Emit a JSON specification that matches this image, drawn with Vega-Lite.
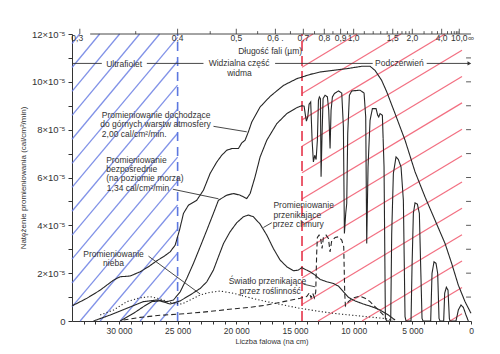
{
  "$schema": "https://vega.github.io/schema/vega-lite/v6.json",
  "width": 399,
  "height": 287,
  "autosize": "none",
  "padding": {"left": 72, "top": 34, "right": 29, "bottom": 33},
  "background": "white",
  "config": {
    "view": {"stroke": null},
    "font": "Liberation Sans",
    "axis": {"grid": false, "domainColor": "#333", "tickColor": "#333", "labelColor": "#333", "titleColor": "#333", "labelFont": "Liberation Sans", "titleFont": "Liberation Sans", "titleFontWeight": "normal"}
  },
  "datasets": {
    "curves": [
      {"s":"T","w":34000,"v":0.63},{"s":"T","w":32730,"v":0.95},{"s":"T","w":31600,"v":1.29},{"s":"T","w":30460,"v":1.71},{"s":"T","w":29900,"v":1.85},{"s":"T","w":29040,"v":1.88},{"s":"T","w":28190,"v":2.06},{"s":"T","w":27480,"v":2.27},{"s":"T","w":26770,"v":2.52},{"s":"T","w":26200,"v":2.69},{"s":"T","w":25640,"v":2.89},{"s":"T","w":25210,"v":3.17},{"s":"T","w":24840,"v":3.80},{"s":"T","w":24500,"v":4.50},{"s":"T","w":24080,"v":4.84},{"s":"T","w":23370,"v":5.05},{"s":"T","w":22800,"v":5.47},{"s":"T","w":22230,"v":6.17},{"s":"T","w":21660,"v":6.65},{"s":"T","w":21240,"v":6.93},{"s":"T","w":20810,"v":7.14},{"s":"T","w":20380,"v":7.21},{"s":"T","w":19820,"v":7.21},{"s":"T","w":19530,"v":7.45},{"s":"T","w":19250,"v":7.56},{"s":"T","w":18970,"v":7.91},{"s":"T","w":18680,"v":8.32},{"s":"T","w":17970,"v":8.95},{"s":"T","w":17120,"v":9.39},{"s":"T","w":15980,"v":9.85},{"s":"T","w":14850,"v":10.13},{"s":"T","w":13710,"v":10.31},{"s":"T","w":12860,"v":10.41},{"s":"T","w":11730,"v":10.48},{"s":"T","w":10590,"v":10.55},{"s":"T","w":9310,"v":10.65},{"s":"T","w":8600,"v":10.65},{"s":"T","w":8180,"v":10.48},{"s":"T","w":7610,"v":10.06},{"s":"T","w":7180,"v":9.58},{"s":"T","w":6470,"v":8.67},{"s":"T","w":5620,"v":7.56},{"s":"T","w":4770,"v":6.24},{"s":"T","w":3920,"v":5.19},{"s":"T","w":3070,"v":4.22},{"s":"T","w":2210,"v":3.24},{"s":"T","w":1650,"v":2.41},{"s":"T","w":1080,"v":1.50},{"s":"T","w":510,"v":0.81},{"s":"T","w":0,"v":0.32},
      {"s":"D","w":32170,"v":0},{"s":"D","w":30750,"v":0.25},{"s":"D","w":29330,"v":0.53},{"s":"D","w":27910,"v":0.81},{"s":"D","w":26770,"v":0.88},{"s":"D","w":25920,"v":0.81},{"s":"D","w":25350,"v":0.88},{"s":"D","w":24780,"v":1.22},{"s":"D","w":24220,"v":1.78},{"s":"D","w":23650,"v":2.41},{"s":"D","w":23080,"v":3.10},{"s":"D","w":22510,"v":3.80},{"s":"D","w":21950,"v":4.50},{"s":"D","w":21520,"v":5.05},{"s":"D","w":20810,"v":5.26},{"s":"D","w":20240,"v":5.33},{"s":"D","w":19670,"v":5.26},{"s":"D","w":19110,"v":5.12},{"s":"D","w":18820,"v":5.33},{"s":"D","w":18400,"v":6.03},{"s":"D","w":17970,"v":6.86},{"s":"D","w":17400,"v":7.56},{"s":"D","w":16550,"v":8.25},{"s":"D","w":15700,"v":8.67},{"s":"D","w":14850,"v":8.92},{"s":"D","w":14420,"v":9.00},{"s":"D","w":14220,"v":8.98},{"s":"D","w":14110,"v":8.60},{"s":"D","w":14025,"v":8.36},{"s":"D","w":13910,"v":8.53},{"s":"D","w":13800,"v":9.06},{"s":"D","w":13660,"v":9.16},{"s":"D","w":13540,"v":7.56},{"s":"D","w":13430,"v":6.65},{"s":"D","w":13315,"v":6.93},{"s":"D","w":13200,"v":6.75},{"s":"D","w":13090,"v":7.56},{"s":"D","w":13000,"v":9.23},{"s":"D","w":12920,"v":9.37},{"s":"D","w":12830,"v":9.30},{"s":"D","w":12776,"v":6.03},{"s":"D","w":12690,"v":7.84},{"s":"D","w":12605,"v":9.30},{"s":"D","w":12435,"v":9.44},{"s":"D","w":12236,"v":9.37},{"s":"D","w":12123,"v":8.81},{"s":"D","w":12009,"v":7.21},{"s":"D","w":11924,"v":8.81},{"s":"D","w":11810,"v":9.37},{"s":"D","w":11640,"v":9.51},{"s":"D","w":11300,"v":9.62},{"s":"D","w":11015,"v":9.53},{"s":"D","w":10873,"v":8.11},{"s":"D","w":10788,"v":3.66},{"s":"D","w":10675,"v":4.50},{"s":"D","w":10589,"v":4.91},{"s":"D","w":10504,"v":7.84},{"s":"D","w":10362,"v":9.44},{"s":"D","w":10164,"v":9.62},{"s":"D","w":9454,"v":9.65},{"s":"D","w":9113,"v":9.53},{"s":"D","w":8971,"v":8.53},{"s":"D","w":8886,"v":3.24},{"s":"D","w":8773,"v":6.44},{"s":"D","w":8602,"v":8.39},{"s":"D","w":8403,"v":8.88},{"s":"D","w":8091,"v":8.88},{"s":"D","w":7949,"v":8.60},{"s":"D","w":7864,"v":8.53},{"s":"D","w":7750,"v":8.67},{"s":"D","w":7552,"v":8.60},{"s":"D","w":7410,"v":6.44},{"s":"D","w":7296,"v":0.11},{"s":"D","w":7183,"v":0},{"s":"D","w":6842,"v":0},{"s":"D","w":6757,"v":3.66},{"s":"D","w":6615,"v":6.17},{"s":"D","w":6388,"v":6.86},{"s":"D","w":6189,"v":6.75},{"s":"D","w":5962,"v":6.44},{"s":"D","w":5763,"v":5.05},{"s":"D","w":5621,"v":0.18},{"s":"D","w":5536,"v":0},{"s":"D","w":5110,"v":0},{"s":"D","w":5025,"v":2.27},{"s":"D","w":4911,"v":4.50},{"s":"D","w":4770,"v":4.94},{"s":"D","w":4571,"v":4.89},{"s":"D","w":4400,"v":4.50},{"s":"D","w":4287,"v":2.27},{"s":"D","w":4173,"v":0.11},{"s":"D","w":4088,"v":0},{"s":"D","w":3435,"v":0},{"s":"D","w":3322,"v":1.99},{"s":"D","w":3151,"v":2.48},{"s":"D","w":2981,"v":2.41},{"s":"D","w":2839,"v":1.99},{"s":"D","w":2725,"v":0.11},{"s":"D","w":2640,"v":0},{"s":"D","w":2328,"v":0},{"s":"D","w":2243,"v":1.16},{"s":"D","w":2101,"v":1.41},{"s":"D","w":1959,"v":1.29},{"s":"D","w":1845,"v":0.11},{"s":"D","w":1789,"v":0},{"s":"D","w":1278,"v":0},{"s":"D","w":1079,"v":0.46},{"s":"D","w":852,"v":0.67},{"s":"D","w":653,"v":0.57},{"s":"D","w":426,"v":0.25},{"s":"D","w":227,"v":0},
      {"s":"C","w":29900,"v":0},{"s":"C","w":28760,"v":0.32},{"s":"C","w":27910,"v":0.60},{"s":"C","w":27200,"v":0.81},{"s":"C","w":26490,"v":0.84},{"s":"C","w":25640,"v":0.71},{"s":"C","w":24780,"v":0.84},{"s":"C","w":23930,"v":1.09},{"s":"C","w":23080,"v":1.36},{"s":"C","w":22510,"v":1.64},{"s":"C","w":21950,"v":2.13},{"s":"C","w":21520,"v":2.69},{"s":"C","w":21090,"v":3.24},{"s":"C","w":20530,"v":3.73},{"s":"C","w":19960,"v":4.11},{"s":"C","w":19390,"v":4.36},{"s":"C","w":18970,"v":4.43},{"s":"C","w":18540,"v":4.36},{"s":"C","w":17970,"v":4.05},{"s":"C","w":17400,"v":3.59},{"s":"C","w":16840,"v":3.03},{"s":"C","w":16270,"v":2.55},{"s":"C","w":15700,"v":2.27},{"s":"C","w":15130,"v":2.10},{"s":"C","w":14710,"v":2.13},{"s":"C","w":14420,"v":2.23},{"s":"C","w":14140,"v":2.16},{"s":"C","w":13710,"v":2.06},{"s":"C","w":13290,"v":1.92},{"s":"C","w":12860,"v":1.74},{"s":"C","w":12290,"v":1.64},{"s":"C","w":11730,"v":1.57},{"s":"C","w":11300,"v":1.46},{"s":"C","w":10870,"v":1.22},{"s":"C","w":10450,"v":0.99},{"s":"C","w":9880,"v":0.84},{"s":"C","w":9170,"v":0.71},{"s":"C","w":8460,"v":0.60},{"s":"C","w":7750,"v":0.46},{"s":"C","w":7040,"v":0.25},{"s":"C","w":6470,"v":0.04},
      {"s":"S","w":31600,"v":0.25},{"s":"S","w":30460,"v":0.46},{"s":"S","w":29330,"v":0.81},{"s":"S","w":28190,"v":0.97},{"s":"S","w":27340,"v":1.02},{"s":"S","w":26490,"v":0.92},{"s":"S","w":25350,"v":0.74},{"s":"S","w":24640,"v":0.71},{"s":"S","w":23930,"v":0.88},{"s":"S","w":23080,"v":1.09},{"s":"S","w":22230,"v":1.20},{"s":"S","w":21380,"v":1.25},{"s":"S","w":20240,"v":1.16},{"s":"S","w":18820,"v":0.97},{"s":"S","w":17400,"v":0.81},{"s":"S","w":15980,"v":0.67},{"s":"S","w":14560,"v":0.53},{"s":"S","w":13150,"v":0.42},{"s":"S","w":11730,"v":0.32},{"s":"S","w":10310,"v":0.25},{"s":"S","w":8890,"v":0.18},{"s":"S","w":7470,"v":0.11},{"s":"S","w":6620,"v":0.04},
      {"s":"V","w":29610,"v":0.04},{"s":"V","w":28190,"v":0.15},{"s":"V","w":26490,"v":0.24},{"s":"V","w":24780,"v":0.29},{"s":"V","w":23080,"v":0.36},{"s":"V","w":21660,"v":0.43},{"s":"V","w":20240,"v":0.51},{"s":"V","w":18820,"v":0.57},{"s":"V","w":17400,"v":0.67},{"s":"V","w":15980,"v":0.81},{"s":"V","w":14560,"v":0.95},{"s":"V","w":14000,"v":1.02},{"s":"V","w":13770,"v":1.18},{"s":"V","w":13630,"v":0.97},{"s":"V","w":13490,"v":1.16},{"s":"V","w":13340,"v":0.97},{"s":"V","w":13230,"v":1.22},{"s":"V","w":13150,"v":2.83},{"s":"V","w":13090,"v":3.49},{"s":"V","w":12950,"v":3.59},{"s":"V","w":12800,"v":3.41},{"s":"V","w":12690,"v":3.03},{"s":"V","w":12580,"v":3.49},{"s":"V","w":12350,"v":3.59},{"s":"V","w":12150,"v":3.45},{"s":"V","w":12010,"v":2.89},{"s":"V","w":11870,"v":3.35},{"s":"V","w":11580,"v":3.49},{"s":"V","w":11300,"v":3.52},{"s":"V","w":11015,"v":3.38},{"s":"V","w":10845,"v":3.10},{"s":"V","w":10760,"v":1.16},{"s":"V","w":10700,"v":0.63},{"s":"V","w":10450,"v":0.81},{"s":"V","w":10020,"v":0.97},{"s":"V","w":9450,"v":1.04},{"s":"V","w":9030,"v":0.95},{"s":"V","w":8600,"v":0.81},{"s":"V","w":8180,"v":0.60},{"s":"V","w":7750,"v":0.39},{"s":"V","w":7325,"v":0.18}
    ],
    "blueh": [
      {"w":26490,"v":0,"w2":25000,"v2":0.84},{"w":28195,"v":0,"w2":25000,"v2":1.84},{"w":29898,"v":0,"w2":25000,"v2":2.84},{"w":31602,"v":0,"w2":25000,"v2":3.84},{"w":33305,"v":0,"w2":25000,"v2":4.85},
      {"w":34000,"v":0.59,"w2":25000,"v2":5.85},{"w":34000,"v":1.59,"w2":25000,"v2":6.85},{"w":34000,"v":2.59,"w2":25000,"v2":7.85},{"w":34000,"v":3.59,"w2":25000,"v2":8.86},{"w":34000,"v":4.59,"w2":25000,"v2":9.86},{"w":34000,"v":5.59,"w2":25000,"v2":10.86},{"w":34000,"v":6.59,"w2":25000,"v2":11.86},
      {"w":34000,"v":7.6,"w2":26534,"v2":12},{"w":34000,"v":8.6,"w2":28237,"v2":12},{"w":34000,"v":9.6,"w2":29942,"v2":12},{"w":34000,"v":10.6,"w2":31644,"v2":12},{"w":34000,"v":11.6,"w2":33348,"v2":12}
    ],
    "redh": [
      {"w":1789,"v":0,"w2":767,"v2":0.30},{"w":5537,"v":0,"w2":767,"v2":1.40},{"w":9285,"v":0,"w2":767,"v2":2.51},{"w":13033,"v":0,"w2":767,"v2":3.61},
      {"w":14400,"v":0.69,"w2":767,"v2":4.71},{"w":14400,"v":1.80,"w2":767,"v2":5.81},{"w":14400,"v":2.90,"w2":767,"v2":6.91},{"w":14400,"v":4.00,"w2":767,"v2":8.02},{"w":14400,"v":5.10,"w2":767,"v2":9.12},{"w":14400,"v":6.20,"w2":767,"v2":10.22},{"w":14400,"v":7.31,"w2":767,"v2":11.32},
      {"w":14400,"v":8.41,"w2":2215,"v2":12},{"w":14400,"v":9.51,"w2":5963,"v2":12},{"w":14400,"v":10.61,"w2":9711,"v2":12},{"w":14400,"v":11.71,"w2":13458,"v2":12}
    ],
    "bluev": [{"w":25000,"v":0,"w2":25000,"v2":12}],
    "redv": [{"w":14400,"v":0,"w2":14400,"v2":12}],
    "lines": [
      {"w":21945,"v":8.14,"w2":19106,"v2":7.91},
      {"w":25409,"v":5.51,"w2":21520,"v2":5.11},
      {"w":27482,"v":2.71,"w2":23081,"v2":1.13},
      {"w":16977,"v":4.11,"w2":17687,"v2":3.91},
      {"w":14280,"v":1.54,"w2":13287,"v2":1.43},
      {"w":34000,"v":10.77,"w2":31460,"v2":10.77},
      {"w":27623,"v":10.77,"w2":22797,"v2":10.77},
      {"w":16693,"v":10.77,"w2":8375,"v2":10.77},
      {"w":3776,"v":10.77,"w2":142,"v2":10.77},
      {"w":32450,"v":12,"w2":0,"v2":12}
    ],
    "arrow": [{"w":142,"v":10.77}],
    "tleft": [
      {"t":"Promieniowanie dochodzące","w":31456,"v":8.60},
      {"t":"do górnych warstw atmosfery","w":31598,"v":8.23},
      {"t":"2,00 cal/cm²/min.","w":31456,"v":7.81},
      {"t":"Promieniowanie","w":31087,"v":6.75},
      {"t":"bezpośrednie","w":31087,"v":6.37},
      {"t":"(na poziomie morza)","w":31087,"v":5.96},
      {"t":"1,34 cal/cm²/min","w":31030,"v":5.57},
      {"t":"Promieniowanie","w":16835,"v":4.84},
      {"t":"przenikające","w":16835,"v":4.45},
      {"t":"przez chmury","w":16892,"v":4.05}
    ],
    "tcenter": [
      {"t":"Promieniowanie","w":30462,"v":2.80},
      {"t":"nieba","w":30462,"v":2.41},
      {"t":"Światło przenikające","w":17346,"v":1.67},
      {"t":"przez roślinność","w":17119,"v":1.27},
      {"t":"Ultrafiolet","w":29554,"v":10.75},
      {"t":"Widzialna  część","w":19760,"v":10.77},
      {"t":"widma","w":19730,"v":10.38},
      {"t":"Podczerwień","w":6104,"v":10.80},
      {"t":"Długość fali (µm)","w":17119,"v":11.29}
    ],
    "lam": [
      {"t":"0,3","w":33550,"v":11.82},{"t":"0,4","w":25000,"v":11.82},{"t":"0,5","w":20000,"v":11.82},{"t":"0,6 .","w":16667,"v":11.82},{"t":"0,7","w":14286,"v":11.82},{"t":"0,8","w":12500,"v":11.82},{"t":"0,9","w":11111,"v":11.82},{"t":"1,0","w":10000,"v":11.82},{"t":"1,5","w":6667,"v":11.82},{"t":"2,0","w":5000,"v":11.82},{"t":"4,0","w":2500,"v":11.82},{"t":"10,0","w":1000,"v":11.82},{"t":"∞","w":0,"v":11.82}
    ],
    "lamticks": [
      {"w":33333,"v":12,"v2":12.22},{"w":25000,"v":12,"v2":12.22},{"w":20000,"v":12,"v2":12.22},{"w":16667,"v":12,"v2":12.22},{"w":14286,"v":12,"v2":12.22},{"w":12500,"v":12,"v2":12.22},{"w":11111,"v":12,"v2":12.22},{"w":10000,"v":12,"v2":12.22},{"w":6667,"v":12,"v2":12.22},{"w":5000,"v":12,"v2":12.22},{"w":2500,"v":12,"v2":12.22},{"w":1000,"v":12,"v2":12.22},
      {"w":28571,"v":12,"v2":12.12},{"w":22222,"v":12,"v2":12.12},{"w":18182,"v":12,"v2":12.12},{"w":15385,"v":12,"v2":12.12},{"w":13333,"v":12,"v2":12.12},{"w":11765,"v":12,"v2":12.12},{"w":10526,"v":12,"v2":12.12},{"w":9091,"v":12,"v2":12.12},{"w":8333,"v":12,"v2":12.12},{"w":7692,"v":12,"v2":12.12},{"w":7143,"v":12,"v2":12.12},{"w":6250,"v":12,"v2":12.12},{"w":5882,"v":12,"v2":12.12},{"w":5556,"v":12,"v2":12.12},{"w":5263,"v":12,"v2":12.12},{"w":4000,"v":12,"v2":12.12},{"w":3333,"v":12,"v2":12.12},{"w":2857,"v":12,"v2":12.12},{"w":2000,"v":12,"v2":12.12},{"w":1667,"v":12,"v2":12.12},{"w":1429,"v":12,"v2":12.12},{"w":1250,"v":12,"v2":12.12},{"w":1111,"v":12,"v2":12.12}
    ],
    "rticks": [
      {"w":0,"w2":420,"v":1},{"w":0,"w2":420,"v":2},{"w":0,"w2":420,"v":3},{"w":0,"w2":420,"v":4},{"w":0,"w2":420,"v":5},{"w":0,"w2":420,"v":6},{"w":0,"w2":420,"v":7},{"w":0,"w2":420,"v":8},{"w":0,"w2":420,"v":9},{"w":0,"w2":420,"v":10},{"w":0,"w2":420,"v":11}
    ]
  },
  "encoding": {
    "x": {
      "field": "w", "type": "quantitative",
      "scale": {"domain": [0, 34000], "reverse": true, "nice": false, "zero": false},
      "axis": {
        "title": "Liczba falowa (na cm)", "titleFontSize": 7.5, "titlePadding": 3,
        "values": [0,1000,2000,3000,4000,5000,6000,7000,8000,9000,10000,11000,12000,13000,14000,15000,16000,17000,18000,19000,20000,21000,22000,23000,24000,25000,26000,27000,28000,29000,30000,31000,32000,33000],
        "labelExpr": "datum.value % 5000 == 0 ? (datum.value == 0 ? '0' : (datum.value / 1000) + ' 000') : ''",
        "labelFontSize": 8.5, "labelPadding": 2, "tickSize": 3, "labelFlush": false, "labelOverlap": false
      }
    },
    "y": {
      "field": "v", "type": "quantitative",
      "scale": {"domain": [0, 12], "nice": false, "zero": true},
      "axis": {
        "title": "Natężenie promieniowania (cal/cm²/min)", "titleFontSize": 8, "titlePadding": 4,
        "values": [0,1,2,3,4,5,6,7,8,9,10,11,12],
        "labelExpr": "datum.value % 2 == 0 ? (datum.value == 0 ? '0' : datum.value + '×10⁻⁵') : ''",
        "labelFontSize": 9.5, "labelPadding": 3, "tickSize": 4, "labelFlush": false, "labelOverlap": false
      }
    }
  },
  "layer": [
    {
      "data": {"name": "blueh"},
      "mark": {"type": "rule", "color": "#6b7fe3", "strokeWidth": 1.3, "opacity": 0.85},
      "encoding": {"x2": {"field": "w2"}, "y2": {"field": "v2"}}
    },
    {
      "data": {"name": "redh"},
      "mark": {"type": "rule", "color": "#f0566b", "strokeWidth": 1.2, "opacity": 0.85},
      "encoding": {"x2": {"field": "w2"}, "y2": {"field": "v2"}}
    },
    {
      "data": {"name": "bluev"},
      "mark": {"type": "rule", "color": "#5d78e0", "strokeWidth": 1.6, "strokeDash": [9, 6]},
      "encoding": {"x2": {"field": "w2"}, "y2": {"field": "v2"}}
    },
    {
      "data": {"name": "redv"},
      "mark": {"type": "rule", "color": "#e5344a", "strokeWidth": 1.6, "strokeDash": [10, 5]},
      "encoding": {"x2": {"field": "w2"}, "y2": {"field": "v2"}}
    },
    {
      "data": {"name": "curves"},
      "mark": {"type": "line", "color": "#262626", "strokeWidth": 1.1},
      "encoding": {
        "detail": {"field": "s"},
        "strokeDash": {"field": "s", "type": "nominal", "scale": {"domain": ["T","D","C","S","V"], "range": [[1,0],[1,0],[1,0],[1.2,2.2],[5,3]]}, "legend": null}
      }
    },
    {
      "data": {"name": "lines"},
      "mark": {"type": "rule", "color": "#333", "strokeWidth": 0.9},
      "encoding": {"x2": {"field": "w2"}, "y2": {"field": "v2"}}
    },
    {
      "data": {"name": "arrow"},
      "mark": {"type": "point", "shape": "triangle-right", "filled": true, "color": "#333", "size": 18, "opacity": 1}
    },
    {
      "data": {"name": "lamticks"},
      "mark": {"type": "rule", "color": "#333", "strokeWidth": 0.8},
      "encoding": {"y2": {"field": "v2"}}
    },
    {
      "data": {"name": "rticks"},
      "mark": {"type": "rule", "color": "#333", "strokeWidth": 0.8},
      "encoding": {"x2": {"field": "w2"}}
    },
    {
      "data": {"name": "lam"},
      "mark": {"type": "text", "fontSize": 8.5, "color": "#333", "baseline": "middle", "align": "center"},
      "encoding": {"text": {"field": "t"}}
    },
    {
      "data": {"name": "tleft"},
      "mark": {"type": "text", "fontSize": 8.5, "color": "#333", "baseline": "middle", "align": "left"},
      "encoding": {"text": {"field": "t"}}
    },
    {
      "data": {"name": "tcenter"},
      "mark": {"type": "text", "fontSize": 8.5, "color": "#333", "baseline": "middle", "align": "center"},
      "encoding": {"text": {"field": "t"}}
    }
  ]
}
